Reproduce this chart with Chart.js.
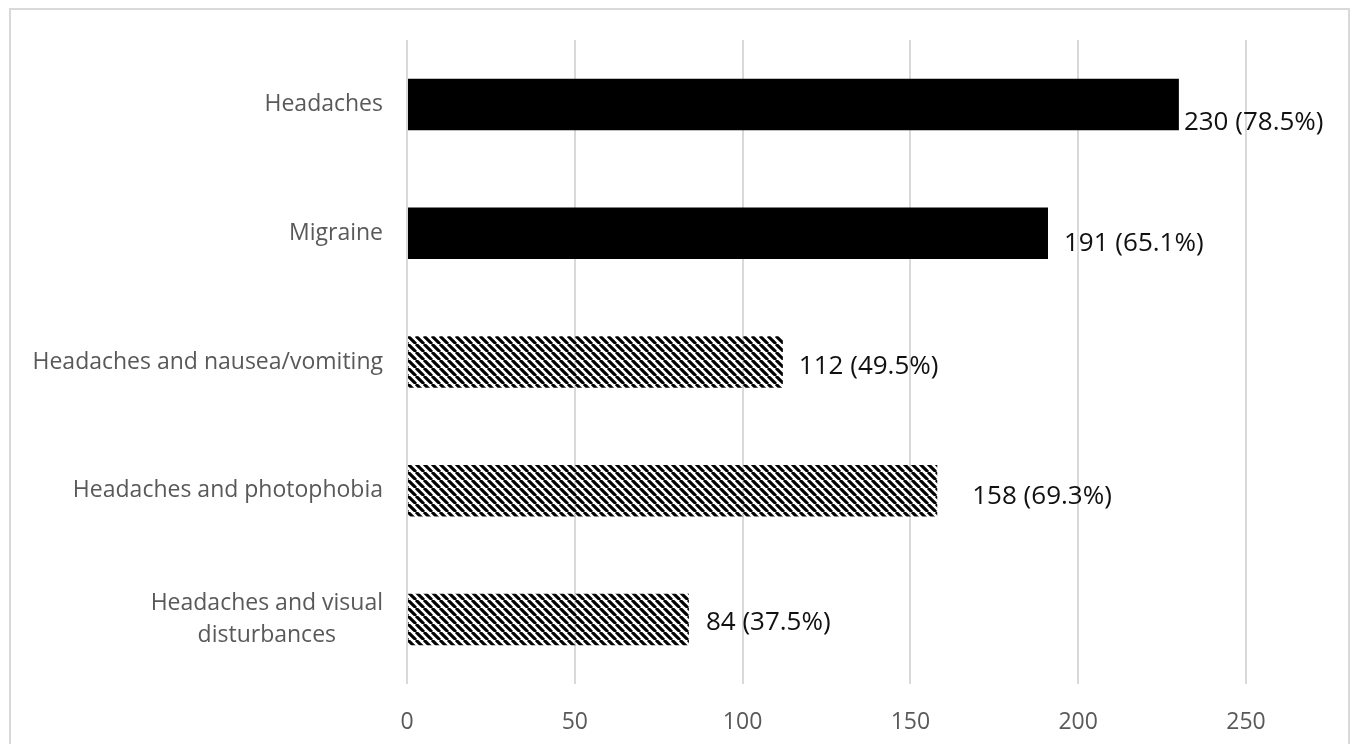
<!DOCTYPE html>
<html>
<head>
<meta charset="utf-8">
<script src="https://cdn.jsdelivr.net/npm/chart.js@4/dist/chart.umd.min.js"></script>
<style>
	body { margin: 0; background: #fff; }
	#box { width: 1354px; height: 744px; position: relative; }
</style>
</head>
<body>
<div id="box"><canvas id="grafico"></canvas></div>
<script>
const categorias = [
	"Headaches",
	"Migraine",
	"Headaches and nausea/vomiting",
	"Headaches and photophobia",
	["Headaches and visual", "disturbances"],
]
const contagens = [230, 191, 112, 158, 84]
const percentuais = [78.5, 65.1, 49.5, 69.3, 37.5]
const eixoMin = 0
const eixoMax = 250
const eixoPasso = 50

// deslocamento dos rotulos de valor em relacao a ponta da barra
const ajusteX = [5, 16, 16, 35, 17]
const ajusteY = [18, 10, 5, 6, 3]

const CINZA = "#595959"
const GRADE = "#d9d9d9"
const FONTE = "'Open Sans', sans-serif"

// hachura diagonal (\\\)
function hachura() {
	let c = document.createElement("canvas")
	c.width = 8
	c.height = 8
	let ctx = c.getContext("2d")
	ctx.strokeStyle = "#000"
	ctx.lineWidth = 3.1
	for (const k of [-8, 0, 8]) {
		ctx.beginPath()
		ctx.moveTo(k, 0)
		ctx.lineTo(k + 8, 8)
		ctx.stroke()
	}
	return ctx.createPattern(c, "repeat")
}

const padrao = hachura()
const cores = contagens.map((v, i) => (i < 2 ? "#000" : padrao))

const moldura = {
	id: "moldura",
	beforeDraw(chart) {
		const ctx = chart.ctx
		ctx.save()
		ctx.strokeStyle = GRADE
		ctx.lineWidth = 2
		ctx.strokeRect(10, 9, 1339, 800)
		ctx.restore()
	},
}

const rotulosCategoria = {
	id: "rotulosCategoria",
	afterDraw(chart) {
		const ctx = chart.ctx
		const y = chart.scales.y
		const direita = chart.chartArea.left - 24
		ctx.save()
		ctx.font = `23px ${FONTE}`
		ctx.fillStyle = CINZA
		ctx.textBaseline = "middle"
		categorias.forEach((cat, i) => {
			const linhas = Array.isArray(cat) ? cat : [cat]
			const py = y.getPixelForValue(i)
			const larg = Math.max(...linhas.map((l) => ctx.measureText(l).width))
			const alt = 32
			linhas.forEach((l, j) => {
				const ly = py + (j - (linhas.length - 1) / 2) * alt
				ctx.textAlign = "center"
				ctx.fillText(l, direita - larg / 2, ly)
			})
		})
		ctx.restore()
	},
}

const rotulosValor = {
	id: "rotulosValor",
	afterDatasetsDraw(chart) {
		const ctx = chart.ctx
		const meta = chart.getDatasetMeta(0)
		ctx.save()
		ctx.font = `26px ${FONTE}`
		ctx.fillStyle = "#111"
		ctx.textAlign = "left"
		ctx.textBaseline = "middle"
		meta.data.forEach((barra, i) => {
			ctx.fillText(
				`${contagens[i]} (${percentuais[i]}%)`,
				barra.x + ajusteX[i],
				barra.y + ajusteY[i]
			)
		})
		ctx.restore()
	},
}

const config = {
	type: "bar",
	data: {
		labels: categorias,
		datasets: [
			{
				data: contagens,
				backgroundColor: cores,
				borderWidth: 0,
				categoryPercentage: 1,
				barPercentage: 0.4,
			},
		],
	},
	options: {
		indexAxis: "y",
		responsive: true,
		maintainAspectRatio: false,
		animation: false,
		layout: {
			padding: { top: 40, right: 108, bottom: 0, left: 0 },
		},
		plugins: {
			legend: { display: false },
			tooltip: { enabled: false },
		},
		scales: {
			x: {
				min: eixoMin,
				max: eixoMax,
				ticks: {
					stepSize: eixoPasso,
					color: CINZA,
					font: { family: FONTE, size: 23 },
					padding: 25,
				},
				grid: {
					color: GRADE,
					lineWidth: 2,
					drawTicks: false,
				},
				border: { display: false },
				afterFit(s) {
					s.height = 60
				},
			},
			y: {
				ticks: { display: false },
				grid: { display: false },
				border: { display: false },
				afterFit(s) {
					s.width = 407
				},
			},
		},
	},
	plugins: [moldura, rotulosCategoria, rotulosValor],
}

new Chart(document.getElementById("grafico"), config)
</script>
</body>
</html>
